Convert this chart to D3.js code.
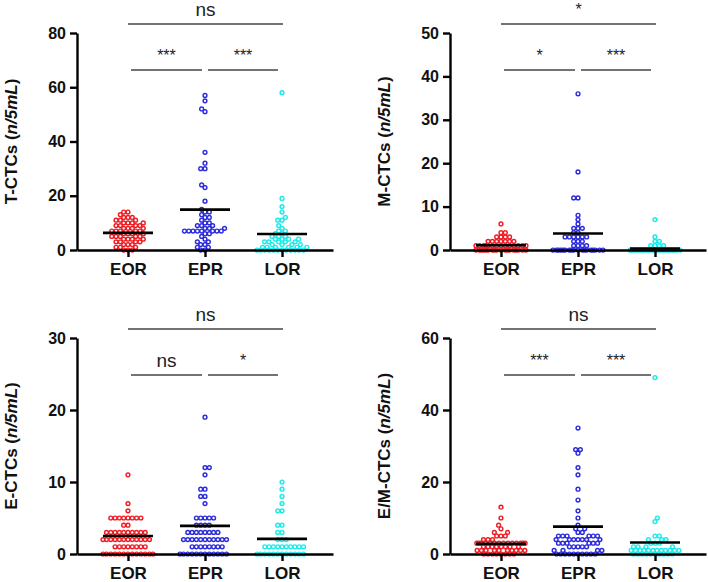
<!DOCTYPE html>
<html><head><meta charset="utf-8">
<script src="https://cdn.jsdelivr.net/npm/d3@7"></script>
<style>
html,body{margin:0;padding:0;background:#fff;}
text{font-family:"Liberation Sans",Arial,sans-serif;}
</style></head>
<body><svg id="chart" width="708" height="582"></svg>
<script>
// ---------- DATA ----------
const groups = ["EOR", "EPR", "LOR"];
const groupColors = ["#f01c24", "#2b2bdc", "#1eeaea"];

// T-CTCs
const tEOR = [14,14,13,12,12,12,11,11,11,10,10,10,10,9,9,9,9,8,8,8,8,7,7,7,7,7,6,6,6,6,5,5,5,5,5,4,4,4,4,3,3,3,3,2,2,2,1,1,1,0,0,0];
const tEPR = [57,55,52,51,36,32,30,30,24,23,18,15,14,14,13,12,12,11,10,10,9,9,9,8,8,8,7,7,7,7,7,7,7,7,6,6,5,4,3,3,2,2,1,1,0,0];
const tLOR = [58,19,16,14,12,11,11,9,8,7,7,6,6,5,5,5,4,4,4,4,3,3,3,3,3,2,2,2,2,1,1,1,1,1,1,0,0,0,0,0,0,0,0,0,0,0,0];
const tMeans = [6.3, 14.9, 5.9];
const tTicks = [0, 20, 40, 60, 80];
const tSig = ["***", "***", "ns"];

// M-CTCs
const mEOR = [6,4,4,3,3,3,3,2,2,2,2,2,2,2,1,1,1,1,1,1,1,1,1,1,1,1,1,1,0,0,0,0,0,0,0,0,0,0,0,0,0,0,0,0,0,0];
const mEPR = [36,18,12,12,8,7,6,5,5,5,4,4,3,3,3,3,3,3,2,2,2,1,1,1,1,0,0,0,0,0,0,0,0,0,0,0,0,0,0,0,0,0,0];
const mLOR = [7,3,2,2,1,1,1,1,0,0,0,0,0,0,0,0,0,0,0,0,0,0,0,0,0,0,0,0,0,0,0,0];
const mMeans = [1.1, 3.8, 0.35];
const mTicks = [0, 10, 20, 30, 40, 50];
const mSig = ["*", "***", "*"];

// E-CTCs
const eEOR = [11,7,6,5,5,5,5,5,5,5,5,4,4,3,3,3,3,3,3,3,3,3,3,2,2,2,2,2,2,2,2,2,2,2,2,1,1,1,1,1,1,1,1,0,0,0,0,0,0,0,0,0,0,0,0,0];
const eEPR = [19,12,12,11,9,9,8,8,7,5,5,5,5,5,4,4,4,4,3,3,3,3,3,3,3,3,2,2,2,2,2,2,2,2,2,2,2,1,1,1,1,1,1,1,1,0,0,0,0,0,0,0,0,0,0,0,0];
const eLOR = [10,9,8,7,6,6,4,4,3,3,2,2,2,1,1,1,1,1,1,1,1,1,1,0,0,0,0,0,0,0,0,0,0,0,0];
const eMeans = [2.5, 3.9, 2.1];
const eTicks = [0, 10, 20, 30];
const eSig = ["ns", "*", "ns"];

// E/M-CTCs
const emEOR = [13,10,8,7,6,6,5,5,5,4,4,4,3,3,3,3,3,3,3,3,3,3,3,3,3,3,2,2,2,2,2,2,2,2,1,1,1,1,1,1,1,1,1,1,0,0,0,0,0,0,0,0];
const emEPR = [35,29,29,28,24,22,18,15,12,10,8,7,7,6,6,5,5,5,5,5,5,4,4,4,4,4,4,4,3,3,3,3,3,3,2,2,2,2,2,1,1,1,1,0,0,0,0,0,0,0,0,0,0];
const emLOR = [49,10,9,5,5,4,4,4,3,3,3,2,2,2,2,1,1,1,1,1,1,1,1,1,1,1,1,0,0,0,0,0,0,0,0,0,0];
const emMeans = [2.8, 7.6, 3.2];
const emTicks = [0, 20, 40, 60];
const emSig = ["***", "***", "ns"];

const yLabels = ["T-CTCs", "M-CTCs", "E-CTCs", "E/M-CTCs"];
const yUnit = "n/5mL";

// ---------- LAYOUT ----------
const panels = [
  {x0: 77,  x1: 333, yTop: 33,  yBot: 250, series: [tEOR, tEPR, tLOR],   means: tMeans,  ticks: tTicks,  sig: tSig,  label: yLabels[0]},
  {x0: 450, x1: 706, yTop: 33,  yBot: 250, series: [mEOR, mEPR, mLOR],   means: mMeans,  ticks: mTicks,  sig: mSig,  label: yLabels[1]},
  {x0: 77,  x1: 333, yTop: 338, yBot: 554, series: [eEOR, eEPR, eLOR],   means: eMeans,  ticks: eTicks,  sig: eSig,  label: yLabels[2]},
  {x0: 450, x1: 706, yTop: 338, yBot: 554, series: [emEOR, emEPR, emLOR], means: emMeans, ticks: emTicks, sig: emSig, label: yLabels[3]}
];

const R = 1.9, SW = 1.45, SPACING = 4.3, MAXHALF = 25;

function swarm(values, y) {
  const pts = values.map(v => ({v, py: y(v), ox: 0})).sort((a, b) => a.v - b.v);
  const placed = [];
  let flip = 1;
  for (const p of pts) {
    const near = placed.filter(q => Math.abs(q.py - p.py) < SPACING);
    const need = near.map(q => Math.sqrt(SPACING * SPACING - (q.py - p.py) ** 2));
    const cands = [0];
    near.forEach((q, i) => { cands.push(q.ox + need[i], q.ox - need[i]); });
    const ok = c => Math.abs(c) <= MAXHALF + 1e-6 && near.every((q, i) => Math.abs(c - q.ox) >= need[i] - 1e-6);
    const valid = cands.filter(ok);
    if (valid.length) {
      valid.sort((a, b) => (Math.abs(a) - Math.abs(b)) || (flip * (b - a)));
      p.ox = valid[0];
      flip = -flip;
    } else {
      let best = 0, bestD = -1;
      for (let c = -MAXHALF; c <= MAXHALF; c += 0.5) {
        let d = Infinity;
        near.forEach(q => { const dd = Math.hypot(c - q.ox, q.py - p.py); if (dd < d) d = dd; });
        if (d > bestD + 1e-9) { bestD = d; best = c; }
      }
      p.ox = best;
    }
    placed.push(p);
  }
  return placed;
}

const svg = d3.select("#chart");

panels.forEach(P => {
  const g = svg.append("g");
  const yMax = P.ticks[P.ticks.length - 1];
  const y = d3.scaleLinear().domain([0, yMax]).range([P.yBot, P.yTop]);
  const x = d3.scalePoint().domain(groups).range([P.x0, P.x1]).padding(0.662);

  // points
  groups.forEach((grp, gi) => {
    const pts = swarm(P.series[gi], y);
    g.append("g").selectAll("circle").data(pts).join("circle")
      .attr("cx", d => x(grp) + d.ox)
      .attr("cy", d => d.py)
      .attr("r", R)
      .attr("fill", "none")
      .attr("stroke", groupColors[gi])
      .attr("stroke-width", SW);
  });

  // mean lines
  g.append("g").selectAll("line").data(P.means).join("line")
    .attr("x1", (d, i) => x(groups[i]) - 25)
    .attr("x2", (d, i) => x(groups[i]) + 25)
    .attr("y1", d => y(d)).attr("y2", d => y(d))
    .attr("stroke", "#000").attr("stroke-width", 2.6);

  // axes
  const ya = g.append("g").attr("transform", `translate(${P.x0},0)`)
    .call(d3.axisLeft(y).tickValues(P.ticks).tickSize(7).tickPadding(4).tickSizeOuter(0));
  ya.select(".domain").attr("stroke-width", 2.4);
  ya.selectAll(".tick line").attr("stroke-width", 2.4);
  ya.selectAll(".tick text").attr("font-size", 16).attr("font-weight", "bold")
    .attr("font-family", "'Liberation Sans',Arial,sans-serif").attr("fill", "#111");

  const xa = g.append("g").attr("transform", `translate(0,${P.yBot})`)
    .call(d3.axisBottom(x).tickSize(7).tickPadding(6).tickSizeOuter(0));
  xa.select(".domain").attr("stroke-width", 2.4);
  xa.selectAll(".tick line").attr("stroke-width", 2.4);
  xa.selectAll(".tick text").attr("font-size", 17).attr("font-weight", "bold")
    .attr("font-family", "'Liberation Sans',Arial,sans-serif").attr("fill", "#111");

  // y label
  const lbl = g.append("text")
    .attr("transform", `translate(${P.x0 - 60},${(P.yTop + P.yBot) / 2}) rotate(-90)`)
    .attr("text-anchor", "middle")
    .attr("font-size", 17).attr("font-weight", "bold").attr("fill", "#111");
  lbl.append("tspan").text(P.label + " (");
  lbl.append("tspan").attr("font-style", "italic").text(yUnit);
  lbl.append("tspan").text(")");

  // significance brackets
  const xs = groups.map(x);
  const lowY = P.yTop + 37, topY = P.yTop - 9;
  const brackets = [
    {a: xs[0] + 3, b: xs[1] - 3, yy: lowY, t: P.sig[0]},
    {a: xs[1] + 3, b: xs[2] - 4, yy: lowY, t: P.sig[1]},
    {a: xs[0],     b: xs[2] + 1, yy: topY, t: P.sig[2]}
  ];
  brackets.forEach(B => {
    g.append("line").attr("x1", B.a).attr("x2", B.b).attr("y1", B.yy).attr("y2", B.yy)
      .attr("stroke", "#444").attr("stroke-width", 1.3);
    const isNs = B.t === "ns";
    g.append("text").attr("x", (B.a + B.b) / 2)
      .attr("y", B.yy - (isNs ? 8.5 : 9))
      .attr("text-anchor", "middle")
      .attr("font-size", isNs ? 19 : 16)
      .attr("fill", "#222")
      .text(B.t);
  });
});
</script></body></html>
